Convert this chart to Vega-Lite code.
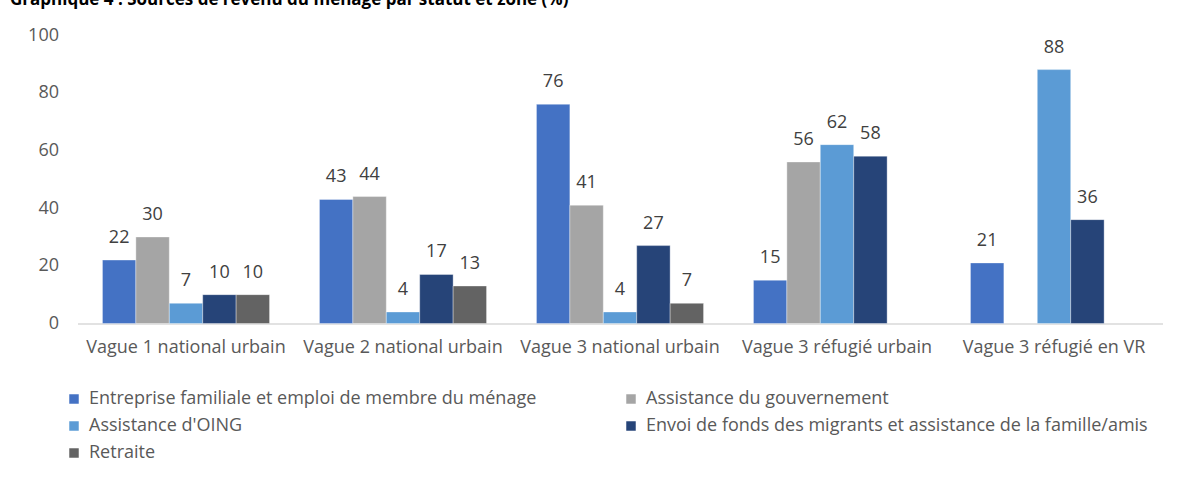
{
  "$schema": "https://vega.github.io/schema/vega-lite/v6.json",
  "autosize": "none",
  "width": 1085,
  "height": 288.5,
  "padding": {"left": 77.5, "top": 35, "right": 18.5, "bottom": 153.5},
  "background": "white",
  "title": {
    "text": "Graphique 4 : Sources de revenu du ménage par statut et zone (%)",
    "anchor": "start",
    "frame": "group",
    "font": "Open Sans",
    "fontSize": 17,
    "fontWeight": "bold",
    "color": "#000000",
    "baseline": "alphabetic",
    "offset": 0,
    "dx": -67.5,
    "dy": -4
  },
  "config": {
    "view": {"stroke": null},
    "font": "Open Sans"
  },
  "data": {
    "values": [
      {"vague": "Vague 1 national urbain", "source": "Entreprise familiale et emploi de membre du ménage", "valeur": 22},
      {"vague": "Vague 1 national urbain", "source": "Assistance du gouvernement", "valeur": 30},
      {"vague": "Vague 1 national urbain", "source": "Assistance d'OING", "valeur": 7},
      {"vague": "Vague 1 national urbain", "source": "Envoi de fonds des migrants et assistance de la famille/amis", "valeur": 10},
      {"vague": "Vague 1 national urbain", "source": "Retraite", "valeur": 10},
      {"vague": "Vague 2 national urbain", "source": "Entreprise familiale et emploi de membre du ménage", "valeur": 43},
      {"vague": "Vague 2 national urbain", "source": "Assistance du gouvernement", "valeur": 44},
      {"vague": "Vague 2 national urbain", "source": "Assistance d'OING", "valeur": 4},
      {"vague": "Vague 2 national urbain", "source": "Envoi de fonds des migrants et assistance de la famille/amis", "valeur": 17},
      {"vague": "Vague 2 national urbain", "source": "Retraite", "valeur": 13},
      {"vague": "Vague 3 national urbain", "source": "Entreprise familiale et emploi de membre du ménage", "valeur": 76},
      {"vague": "Vague 3 national urbain", "source": "Assistance du gouvernement", "valeur": 41},
      {"vague": "Vague 3 national urbain", "source": "Assistance d'OING", "valeur": 4},
      {"vague": "Vague 3 national urbain", "source": "Envoi de fonds des migrants et assistance de la famille/amis", "valeur": 27},
      {"vague": "Vague 3 national urbain", "source": "Retraite", "valeur": 7},
      {"vague": "Vague 3 réfugié urbain", "source": "Entreprise familiale et emploi de membre du ménage", "valeur": 15},
      {"vague": "Vague 3 réfugié urbain", "source": "Assistance du gouvernement", "valeur": 56},
      {"vague": "Vague 3 réfugié urbain", "source": "Assistance d'OING", "valeur": 62},
      {"vague": "Vague 3 réfugié urbain", "source": "Envoi de fonds des migrants et assistance de la famille/amis", "valeur": 58},
      {"vague": "Vague 3 réfugié en VR", "source": "Entreprise familiale et emploi de membre du ménage", "valeur": 21},
      {"vague": "Vague 3 réfugié en VR", "source": "Assistance d'OING", "valeur": 88},
      {"vague": "Vague 3 réfugié en VR", "source": "Envoi de fonds des migrants et assistance de la famille/amis", "valeur": 36}
    ]
  },
  "encoding": {
    "x": {
      "field": "vague",
      "type": "nominal",
      "sort": null,
      "scale": {"paddingInner": 0.23, "paddingOuter": 0.115},
      "axis": {
        "title": null,
        "labelAngle": 0,
        "labelFont": "Open Sans",
        "labelFontSize": 18,
        "labelColor": "#595959",
        "labelPadding": 15,
        "ticks": false,
        "domainColor": "#D9D9D9",
        "domainWidth": 1.5,
        "labelLimit": 300
      }
    },
    "xOffset": {
      "field": "source",
      "type": "nominal",
      "scale": {
        "domain": ["Entreprise familiale et emploi de membre du ménage", "Assistance du gouvernement", "Assistance d'OING", "Envoi de fonds des migrants et assistance de la famille/amis", "Retraite"],
        "paddingInner": 0,
        "paddingOuter": 0
      }
    },
    "y": {
      "field": "valeur",
      "type": "quantitative",
      "scale": {"domain": [0, 100], "nice": false},
      "axis": {
        "title": null,
        "values": [0, 20, 40, 60, 80, 100],
        "grid": false,
        "domain": false,
        "ticks": false,
        "labelFont": "Open Sans",
        "labelFontSize": 18,
        "labelColor": "#595959",
        "labelPadding": 19
      }
    }
  },
  "layer": [
    {
      "mark": {"type": "bar", "stroke": "#ffffff", "strokeWidth": 0.6, "strokeOpacity": 0.6},
      "encoding": {
        "color": {
          "field": "source",
          "type": "nominal",
          "scale": {
            "domain": ["Entreprise familiale et emploi de membre du ménage", "Assistance d'OING", "Retraite", "Assistance du gouvernement", "Envoi de fonds des migrants et assistance de la famille/amis"],
            "range": ["#4472C4", "#5B9BD5", "#636363", "#A5A5A5", "#264478"]
          },
          "legend": {
            "title": null,
            "orient": "none",
            "legendX": -12.5,
            "legendY": 355,
            "columns": 2,
            "columnPadding": 85,
            "rowPadding": 9,
            "symbolType": "square",
            "symbolSize": 90,
            "symbolStrokeWidth": 0,
            "labelFont": "Open Sans",
            "labelFontSize": 18,
            "labelColor": "#595959",
            "labelOffset": 6,
            "labelLimit": 700
          }
        }
      }
    },
    {
      "mark": {"type": "text", "baseline": "alphabetic", "dy": -17, "font": "Open Sans", "fontSize": 18, "color": "#404040"},
      "encoding": {
        "text": {"field": "valeur", "type": "quantitative"}
      }
    }
  ]
}
